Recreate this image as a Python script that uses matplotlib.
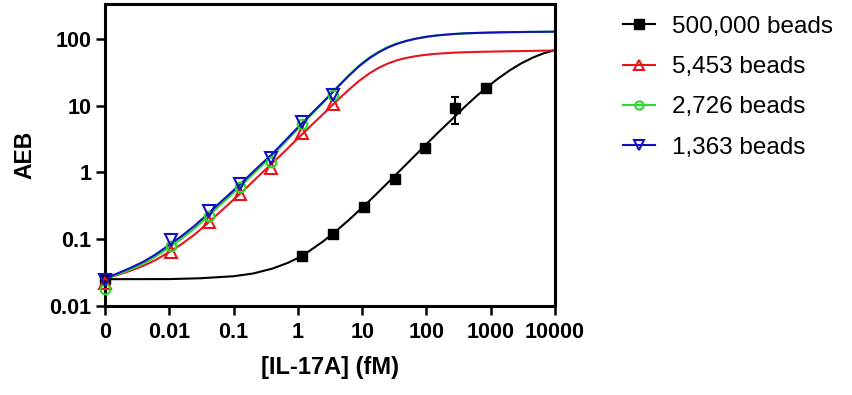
import matplotlib
matplotlib.use('Agg')
import matplotlib.pyplot as plt

plt.rcParams['font.family'] = ['Liberation Sans', 'DejaVu Sans']

# x = 0 is drawn at the 0.001 position, labelled "0"
x_ticks = [0.001, 0.01, 0.1, 1, 10, 100, 1000, 10000]
x_tick_labels = ['0', '0.01', '0.1', '1', '10', '100', '1000', '10000']
y_ticks = [0.01, 0.1, 1, 10, 100]
y_tick_labels = ['0.01', '0.1', '1', '10', '100']

# measured points
x_small = [0.001, 0.0105, 0.042, 0.126, 0.38, 1.17, 3.55]
red_pts = [0.0217, 0.0647, 0.182, 0.471, 1.16, 3.88, 10.6]
green_pts = [0.0176, 0.08, 0.225, 0.6, 1.45, 5.3, 14.4]
blue_pts = [0.024, 0.097, 0.267, 0.671, 1.63, 5.79, 14.6]

x_big = [0.001, 1.17, 3.55, 10.5, 32, 94, 280, 840]
black_pts = [0.025, 0.056, 0.118, 0.305, 0.785, 2.3, 9.4, 18.4]
black_err_lo = [0, 0, 0, 0, 0, 0, 4.05, 0]
black_err_hi = [0, 0, 0, 0, 0, 0, 4.3, 0]

# fitted curves
fit_x = [0.001, 0.0015, 0.0025, 0.004, 0.006, 0.01, 0.015, 0.025, 0.04, 0.06,
         0.1, 0.15, 0.25, 0.4, 0.6, 1, 1.5, 2.5, 4, 6, 9, 13, 18, 25, 35, 50,
         70, 100, 150, 250, 400, 700, 1500, 4000, 10000]
red_fit = [0.0255, 0.0285, 0.0335, 0.040, 0.048, 0.064, 0.082, 0.118, 0.175,
           0.25, 0.39, 0.56, 0.90, 1.38, 2.0, 3.25, 4.75, 7.6, 11.8, 17.0,
           23.8, 30.8, 37.2, 43.2, 48.5, 52.8, 56.0, 58.6, 60.8, 62.7, 63.9,
           64.8, 65.8, 66.8, 68.0]
green_fit = [0.0255, 0.029, 0.035, 0.043, 0.054, 0.075, 0.099, 0.146, 0.22,
             0.315, 0.50, 0.72, 1.16, 1.78, 2.68, 4.5, 6.8, 11.3, 18.4, 27.8,
             40.5, 53.5, 65, 76.5, 86.5, 95.5, 102.5, 109, 114.5, 119.5, 122.8,
             125, 127.3, 129, 130]
blue_fit = [0.026, 0.030, 0.037, 0.046, 0.058, 0.082, 0.108, 0.16, 0.24,
            0.345, 0.54, 0.78, 1.25, 1.9, 2.85, 4.75, 7.1, 11.6, 18.5, 27.5,
            39.5, 52, 63.5, 75, 85.5, 95, 102.5, 109, 114.5, 119.5, 122.8, 125,
            127.3, 129, 130]

black_fit_x = [0.001, 0.01, 0.03, 0.1, 0.2, 0.4, 0.7, 1, 1.5, 2.5, 4, 6, 10,
               15, 25, 40, 65, 100, 150, 250, 400, 600, 900, 1300, 2000, 3000,
               4500, 6500, 10000]
black_fit = [0.025, 0.0251, 0.0258, 0.0277, 0.0304, 0.036, 0.044, 0.052,
             0.066, 0.093, 0.134, 0.188, 0.296, 0.43, 0.70, 1.10, 1.76, 2.66,
             3.93, 6.3, 9.8, 14.0, 19.5, 25.7, 34.4, 43.6, 53.0, 61.0, 69.0]

labels = ['500,000 beads', '5,453 beads', '2,726 beads', '1,363 beads']
c_black = 'black'
c_red = '#e8141c'
c_green = '#2adb2a'
c_blue = '#1010c0'

fig = plt.figure(figsize=(8.53, 3.95), dpi=100)
ax = fig.add_axes([105 / 853, 89.3 / 395, 450 / 853, 301.4 / 395])

lw = 1.5
ax.plot(black_fit_x, black_fit, color=c_black, lw=lw)
ax.plot(fit_x, red_fit, color=c_red, lw=lw)
ax.plot(fit_x, green_fit, color=c_green, lw=lw)
ax.plot(fit_x, blue_fit, color=c_blue, lw=lw)

ax.errorbar(x_big, black_pts, yerr=[black_err_lo, black_err_hi], fmt='none',
            ecolor=c_black, elinewidth=1.5, capsize=3, capthick=1.5)
ax.plot(x_big, black_pts, 's', color=c_black, ms=7.5, clip_on=False, zorder=5)
ax.plot(x_small, red_pts, '^', mfc='none', mec=c_red, ms=8.5, mew=1.5,
        clip_on=False, zorder=5)
ax.plot(x_small, green_pts, 'o', mfc='none', mec=c_green, ms=7, mew=1.5,
        clip_on=False, zorder=5)
ax.plot(x_small, blue_pts, 'v', mfc='none', mec=c_blue, ms=8.5, mew=1.5,
        clip_on=False, zorder=6)

# legend handles
h1, = ax.plot([], [], '-s', color=c_black, ms=6.5, lw=lw)
h2, = ax.plot([], [], '-^', color=c_red, mfc='none', ms=7, mew=1.5, lw=lw)
h3, = ax.plot([], [], '-o', color=c_green, mfc='none', ms=6, mew=1.5, lw=lw)
h4, = ax.plot([], [], '-v', color=c_blue, mfc='none', ms=7, mew=1.5, lw=lw)
fig.legend([h1, h2, h3, h4], labels, loc='upper left',
           bbox_to_anchor=(623 / 853, 0.96), bbox_transform=fig.transFigure,
           frameon=False, fontsize=17.5, borderpad=0, borderaxespad=0,
           handlelength=1.3, handletextpad=0.7, labelspacing=0.75)

ax.set_xscale('log')
ax.set_yscale('log')
ax.set_xlim(0.001, 10000)
ax.set_ylim(0.01, 335)
ax.minorticks_off()
ax.set_xticks(x_ticks)
ax.set_xticklabels(x_tick_labels)
ax.set_yticks(y_ticks)
ax.set_yticklabels(y_tick_labels)
ax.tick_params(axis='both', direction='out', length=6.5, width=1.8,
               labelsize=15.5)
ax.tick_params(axis='x', pad=5.5)
ax.tick_params(axis='y', pad=3.2)
for t in ax.get_xticklabels() + ax.get_yticklabels():
    t.set_fontweight('bold')
for s in ax.spines.values():
    s.set_linewidth(2.2)

ax.set_xlabel('[IL-17A] (fM)', fontsize=17, fontweight='bold')
ax.set_ylabel('AEB', fontsize=16.5, fontweight='bold')
ax.xaxis.label.set_va('center')
ax.xaxis.set_label_coords(0.5, -0.205)
ax.yaxis.label.set_va('center')
ax.yaxis.set_label_coords(-0.178, 0.5)

fig.savefig('out.png', dpi=100)
